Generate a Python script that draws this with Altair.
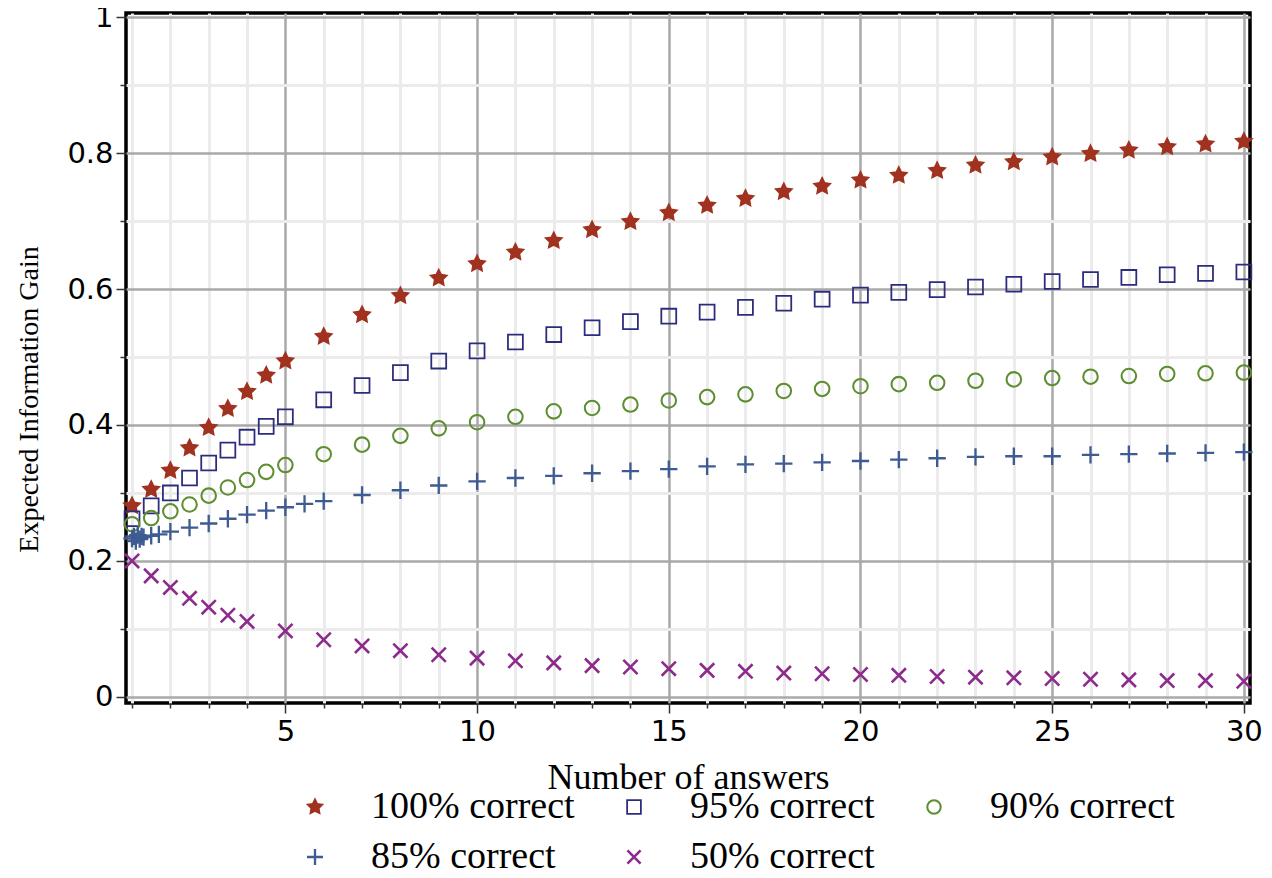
import math
import altair as alt
import pandas as pd

series = ["100% correct", "95% correct", "90% correct", "85% correct", "50% correct"]
colors = ["#a0321f", "#2c2c7c", "#5e8e30", "#3e5b92", "#8c2b8c"]

x_100 = [1, 1.5, 2, 2.5, 3, 3.5, 4, 4.5, 5, 6, 7, 8, 9, 10, 11, 12, 13, 14, 15,
         16, 17, 18, 19, 20, 21, 22, 23, 24, 25, 26, 27, 28, 29, 30]
y_100 = [0.281, 0.305, 0.333, 0.366, 0.396, 0.424, 0.449, 0.473, 0.494, 0.530,
         0.562, 0.590, 0.616, 0.637, 0.654, 0.671, 0.687, 0.699, 0.712, 0.723,
         0.733, 0.743, 0.751, 0.760, 0.767, 0.774, 0.782, 0.787, 0.794, 0.799,
         0.804, 0.809, 0.813, 0.817]

x_95 = [1, 1.5, 2, 2.5, 3, 3.5, 4, 4.5, 5, 6, 7, 8, 9, 10, 11, 12, 13, 14, 15,
        16, 17, 18, 19, 20, 21, 22, 23, 24, 25, 26, 27, 28, 29, 30]
y_95 = [0.262, 0.281, 0.300, 0.322, 0.344, 0.363, 0.382, 0.398, 0.412, 0.437,
        0.458, 0.477, 0.494, 0.509, 0.522, 0.533, 0.543, 0.552, 0.560, 0.566,
        0.573, 0.579, 0.585, 0.591, 0.595, 0.599, 0.603, 0.607, 0.611, 0.614,
        0.617, 0.621, 0.623, 0.625]

x_90 = [1, 1.5, 2, 2.5, 3, 3.5, 4, 4.5, 5, 6, 7, 8, 9, 10, 11, 12, 13, 14, 15,
        16, 17, 18, 19, 20, 21, 22, 23, 24, 25, 26, 27, 28, 29, 30]
y_90 = [0.254, 0.263, 0.273, 0.283, 0.296, 0.308, 0.319, 0.331, 0.341, 0.357,
        0.371, 0.384, 0.395, 0.404, 0.412, 0.420, 0.425, 0.430, 0.436, 0.441,
        0.445, 0.450, 0.453, 0.457, 0.460, 0.462, 0.465, 0.467, 0.469, 0.471,
        0.472, 0.475, 0.476, 0.477]

x_85 = [1, 1.05, 1.1, 1.15, 1.2, 1.25, 1.3, 1.5, 1.7, 2, 2.5, 3, 3.5, 4, 4.5, 5,
        5.5, 6, 7, 8, 9, 10, 11, 12, 13, 14, 15, 16, 17, 18, 19, 20, 21, 22, 23,
        24, 25, 26, 27, 28, 29, 30]
y_85 = [0.233, 0.236, 0.229, 0.238, 0.232, 0.236, 0.235, 0.237, 0.239, 0.243,
        0.249, 0.255, 0.262, 0.268, 0.274, 0.279, 0.284, 0.288, 0.297, 0.304,
        0.311, 0.317, 0.322, 0.325, 0.329, 0.332, 0.335, 0.339, 0.342, 0.343,
        0.345, 0.347, 0.349, 0.351, 0.353, 0.354, 0.354, 0.356, 0.357, 0.358,
        0.359, 0.360]

x_50 = [1, 1.5, 2, 2.5, 3, 3.5, 4, 5, 6, 7, 8, 9, 10, 11, 12, 13, 14, 15, 16,
        17, 18, 19, 20, 21, 22, 23, 24, 25, 26, 27, 28, 29, 30]
y_50 = [0.200, 0.178, 0.161, 0.145, 0.132, 0.120, 0.111, 0.097, 0.084, 0.075,
        0.068, 0.062, 0.057, 0.053, 0.050, 0.046, 0.044, 0.0415, 0.039, 0.0376,
        0.035, 0.034, 0.033, 0.0317, 0.030, 0.029, 0.028, 0.027, 0.026, 0.025,
        0.024, 0.024, 0.023]

x_ticks = [1, 2, 3, 4, 5, 6, 7, 8, 9, 10, 11, 12, 13, 14, 15, 16, 17, 18, 19, 20,
           21, 22, 23, 24, 25, 26, 27, 28, 29, 30]
y_ticks = [0, 0.1, 0.2, 0.3, 0.4, 0.5, 0.6, 0.7, 0.8, 0.9, 1.0]

frames = []
for name, xs, ys in zip(series, [x_100, x_95, x_90, x_85, x_50],
                        [y_100, y_95, y_90, y_85, y_50]):
    frames.append(pd.DataFrame({"x": xs, "y": ys, "series": name}))
df = pd.concat(frames, ignore_index=True)

# marker shapes (unit box -1..1)
pts = []
for i in range(10):
    r = 1.0 if i % 2 == 0 else 0.5
    a = -math.pi / 2 + i * math.pi / 5
    pts.append(f"{r * math.cos(a):.3f},{r * math.sin(a):.3f}")
star_path = "M" + "L".join(pts) + "Z"
square_path = "M-0.86,-0.86L0.86,-0.86L0.86,0.86L-0.86,0.86Z"
circle_path = "M0.84,0A0.84,0.84,0,1,1,-0.84,0A0.84,0.84,0,1,1,0.84,0Z"
plus_path = "M-1,0L1,0M0,-1L0,1"
cross_path = "M-0.82,-0.82L0.82,0.82M-0.82,0.82L0.82,-0.82"

shapes = [star_path, square_path, circle_path, plus_path, cross_path]
fills = [colors[0], "transparent", "transparent", "transparent", "transparent"]

legend = alt.Legend(
    title=None, orient="none", legendX=170, legendY=775,
    direction="horizontal", columns=3, gridAlign="none",
    labelFont="Liberation Serif", labelFontSize=38, labelColor="black",
    labelLimit=0,
    symbolSize=256, symbolStrokeWidth=2.5, labelOffset=37,
    columnPadding=40, rowPadding=12, symbolOpacity=1,
)

major_x = "datum.value % 5 === 0"
major_y = "round(datum.value * 10) % 2 === 0"

chart = alt.Chart(df).mark_point(size=300, opacity=1).encode(
    x=alt.X("x:Q",
            scale=alt.Scale(domain=[0.843, 30.16], nice=False, zero=False),
            axis=alt.Axis(
                values=x_ticks, title="Number of answers",
                titleFont="Liberation Serif", titleFontSize=36,
                titleFontWeight="normal", titleColor="black",
                titleY=85, titleBaseline="alphabetic",
                labelFont="DejaVu Sans", labelFontSize=29, labelColor="black",
                labelExpr=f"{major_x} ? datum.label : ''",
                labelFlush=False, labelOverlap=False, labelPadding=4,
                tickSize={"condition": {"test": major_x, "value": 10}, "value": 5},
                tickColor="#333", tickWidth=1.5,
                grid=True,
                gridColor={"condition": {"test": major_x, "value": "#a9a9a9"}, "value": "#ebebeb"},
                gridWidth={"condition": {"test": major_x, "value": 2.5}, "value": 3},
                domain=False,
            )),
    y=alt.Y("y:Q",
            scale=alt.Scale(domain=[-0.009, 1.006], nice=False, zero=False),
            axis=alt.Axis(
                values=y_ticks, title="Expected Information Gain", format="~g",
                titleFont="Liberation Serif", titleFontSize=28,
                titleFontWeight="normal", titleColor="black",
                titleX=-97, titleY=386, titleAlign="center", titleBaseline="middle",
                labelFont="DejaVu Sans", labelFontSize=29, labelColor="black",
                labelExpr=f"{major_y} ? datum.label : ''",
                labelOverlap=False, labelPadding=3,
                tickSize={"condition": {"test": major_y, "value": 10}, "value": 6},
                tickColor="#333", tickWidth=1.5,
                grid=True,
                gridColor={"condition": {"test": major_y, "value": "#a9a9a9"}, "value": "#ebebeb"},
                gridWidth={"condition": {"test": major_y, "value": 2.5}, "value": 3},
                domain=False,
            )),
    shape=alt.Shape("series:N", scale=alt.Scale(domain=series, range=shapes), legend=legend),
    stroke=alt.Stroke("series:N", scale=alt.Scale(domain=series, range=colors), legend=legend),
    fill=alt.Fill("series:N", scale=alt.Scale(domain=series, range=fills), legend=legend),
    strokeWidth=alt.StrokeWidth("series:N", scale=alt.Scale(domain=series, range=[1.5, 2.6, 3.2, 2.8, 3.4]), legend=None),
).properties(
    width=1124, height=690,
    autosize=alt.AutoSizeParams(type="none"),
    padding={"left": 118, "top": 5, "right": 14, "bottom": 167},
).configure_view(
    stroke="black", strokeWidth=3.5
)

chart.save("out.html", embed_options={"renderer": "svg", "actions": False})
